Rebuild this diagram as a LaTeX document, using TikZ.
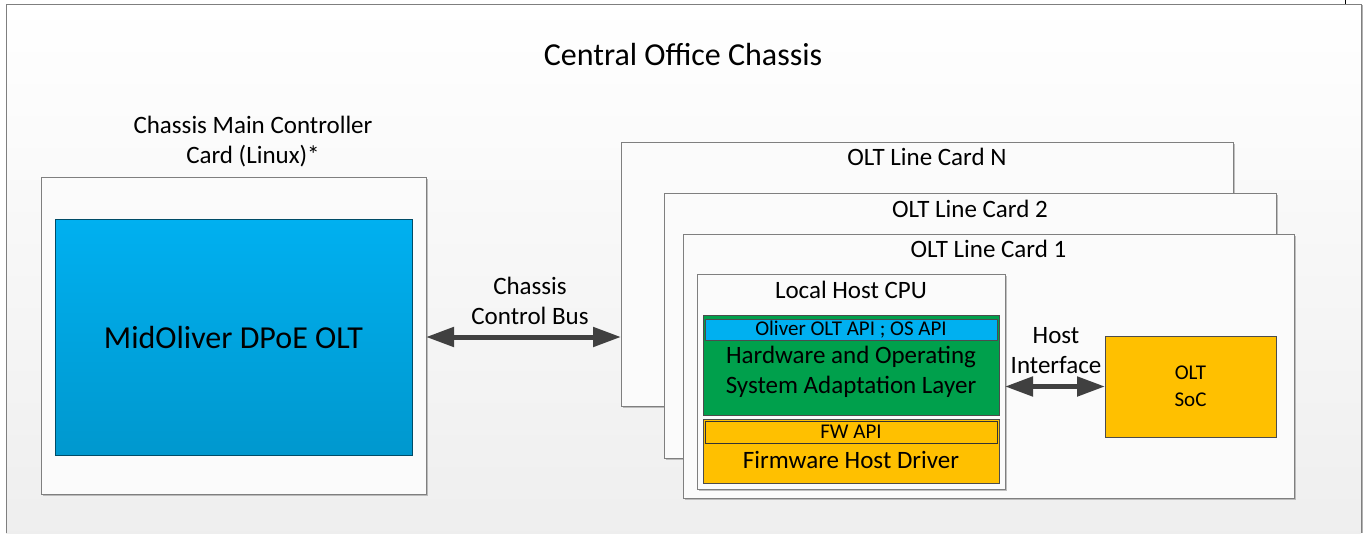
\documentclass[tikz,border=0pt]{standalone}
\usepackage{fontspec}
\setmainfont{Carlito}
\usetikzlibrary{arrows.meta,shadows,calc}
\definecolor{arrowgray}{HTML}{404040}
\definecolor{skyA}{HTML}{00B0F0}
\definecolor{skyB}{HTML}{0098CE}
\definecolor{greenL}{HTML}{00A04C}
\definecolor{orangeL}{HTML}{FFC000}
\definecolor{edgegray}{HTML}{7F7F7F}
\begin{document}
\begin{tikzpicture}[x=1pt,y=-1pt,
  card/.style={draw=edgegray, fill=white!97!gray, inner sep=0pt, outer sep=0pt,
    drop shadow={shadow xshift=1.5pt,shadow yshift=-1.5pt,fill=gray!80,opacity=0.6}},
  layer/.style={draw=gray!60!black, inner sep=0pt, outer sep=0pt},
  lbl/.style={inner sep=0pt, align=center, text=black, font=\fontsize{25}{30}\selectfont},
  small/.style={inner sep=0pt, align=center, text=black, font=\fontsize{21}{27}\selectfont},
  big/.style={inner sep=0pt, align=center, text=black, font=\fontsize{32}{38}\selectfont},
  bus/.style={line width=5pt, draw=arrowgray,
    {Triangle[length=28pt,width=19pt]}-{Triangle[length=28pt,width=19pt]}}
]
\useasboundingbox (0,0) rectangle (1367,533);
% chassis background
\shade[top color=white, bottom color=gray!13] (6,4) rectangle (1361,533);
\draw[gray!60, line width=1.2pt] (1362.5,5) -- (1362.5,533);
\draw[edgegray, line width=1pt] (6,533) -- (6,4) -- (1361,4) -- (1361,533);
\draw[black, line width=1pt] (1345,0) -- (1345,4);
\node[big] (title) at (683,55) {Central Office Chassis};

% main controller card
\node[card, minimum width=385pt, minimum height=317pt] (main) at (233.5,335.5) {};
\node[lbl] (mainlbl) at ($(main.north)+(19.5,-35)$) {Chassis Main Controller\\Card (Linux)*};
\node[draw=skyB!50!black, inner sep=0pt, outer sep=0pt, top color=skyA, bottom color=skyB,
  minimum width=357pt, minimum height=236pt, big] (blue) at (233.5,337) {MidOliver DPoE OLT};

% line cards
\node[card, minimum width=612pt, minimum height=264pt] (cardN) at (927,274) {};
\node[lbl] (cardNlbl) at ($(cardN.north)+(0,15)$) {OLT Line Card N};
\node[card, minimum width=612pt, minimum height=265pt] (card2) at (970,325.5) {};
\node[lbl] (card2lbl) at ($(card2.north)+(0,16)$) {OLT Line Card 2};
\node[card, minimum width=611pt, minimum height=264pt] (card1) at (988.5,366) {};
\node[lbl] (card1lbl) at ($(card1.north)+(0,15)$) {OLT Line Card 1};

% local host CPU
\node[card, minimum width=308pt, minimum height=215pt] (cpu) at (851,381.5) {};
\node[lbl] (cpulbl) at ($(cpu.north)+(0,16)$) {Local Host CPU};
\node[layer, fill=greenL, minimum width=296pt, minimum height=100pt] (hal) at (851,365) {};
\node[layer, fill=skyA, minimum width=292pt, minimum height=21pt, small] (api) at (851,329.5) {Oliver OLT API ; OS API};
\node[lbl] (hallbl) at (851,371.5) {Hardware and Operating\\System Adaptation Layer};
\node[layer, fill=orangeL, minimum width=296pt, minimum height=64pt] (fhd) at (851,451) {};
\node[layer, draw=gray!40!black, fill=orangeL, minimum width=292pt, minimum height=22pt, small] (fwapi) at (851,432) {FW API};
\node[lbl] (fhdlbl) at (851,460) {Firmware Host Driver};

% OLT SoC
\node[layer, fill=orangeL, minimum width=171pt, minimum height=101pt, small] (soc) at (1190.5,386.5) {OLT\\SoC};

% connectors
\draw[bus] (main.east |- blue.center) -- (cardN.west |- blue.center);
\node[lbl] (buslbl) at (530,301) {Chassis\\Control Bus};
\draw[bus] (cpu.east |- soc.center) -- (soc.west);
\node[lbl] (hostlbl) at (1056,351) {Host\\Interface};
\end{tikzpicture}
\end{document}
